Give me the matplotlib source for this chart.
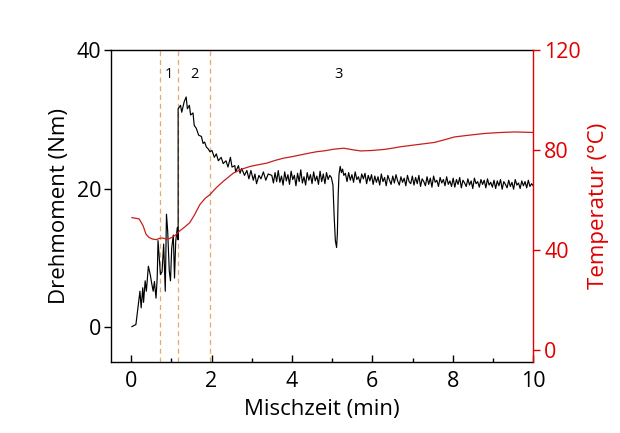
import numpy as np
import matplotlib
matplotlib.use("Agg")
import matplotlib.pyplot as plt

plt.rcParams['font.family'] = ['Open Sans', 'DejaVu Sans']

# ---- torque (Nm) ----
torque_t1 = [0.02,0.12,0.18,0.22,0.25,0.29,0.31,0.35,0.38,0.43,0.48,0.51,0.55,0.58,0.62,0.65,0.67,0.70,
             0.73,0.77,0.81,0.85,0.88,0.91,0.95,0.98,1.01,1.05,1.08,1.11,1.15,1.17,1.17,1.23,1.26,1.32,
             1.37,1.40,1.45,1.48,1.54,1.57,1.62,1.68,1.75,1.79,1.83,1.87,1.92,1.96,2.01,2.07,2.12,2.17,
             2.24,2.29,2.36,2.41,2.47,2.51,2.58,2.60,2.67,2.71,2.75,2.82,2.88,2.93,2.98,3.04,3.08,3.12,
             3.18,3.23,3.29,3.35,3.41,3.50]
torque_v1 = [0.1,0.4,3.3,5.2,2.8,5.7,3.6,6.7,5.2,8.8,7.5,6.4,5.2,6.6,4.2,7.2,12.5,10.1,
             7.6,8.0,12.0,5.2,16.3,13.9,8.1,6.7,11.4,13.3,7.1,12.4,14.4,12.6,31.5,32.0,31.0,32.5,
             33.2,31.5,32.0,30.6,30.9,29.1,28.7,27.7,27.5,26.5,26.7,26.0,25.7,25.3,25.5,24.5,25.0,24.0,
             24.5,23.6,24.0,23.1,24.5,23.1,23.3,22.4,23.3,22.2,22.9,21.9,22.6,21.4,22.6,21.2,22.1,20.7,
             21.9,21.4,22.4,21.2,22.1,21.9]
torque_v2 = [20.8,22.3,21.0,22.6,20.9,21.8,20.5,22.4,21.1,22.0,
             20.6,22.5,21.3,21.9,20.4,22.2,21.0,22.7,20.8,21.7,
             20.5,22.3,21.2,22.0,20.7,22.4,21.1,21.8,20.6,22.5,
             21.0,22.1,20.7,22.3,21.3,21.9,21.6]
torque_t3 = [5.02,5.05,5.08,5.11,5.13,5.15,5.17,5.20,5.23,5.26,5.29,5.33]
torque_v3 = [20.5,16.0,12.5,11.5,13.5,19.0,22.0,23.2,22.3,22.8,21.9,22.2]
torque_v4 = [21.0,22.3,21.2,22.0,20.9,22.4,21.3,21.7,20.8,22.1,21.4,22.2,20.7,21.9,21.1,
             22.0,20.6,21.8,20.9,21.7,20.5,22.1,21.0,21.6,20.4,21.9,21.2,20.6,21.8,20.8,22.0,21.1,20.5,21.7,20.9,21.5,20.4,21.9,21.0,20.7,
             21.8,20.5,21.6,20.7,21.9,20.3,21.4,21.0,20.4,21.7,20.6,21.5,20.2,21.8,20.9,21.2,20.3,21.6,20.8,21.3,20.4,21.7,20.6,21.1,20.3,
             21.5,20.2,21.3,20.6,21.6,20.1,21.2,20.8,20.3,21.4,20.5,21.1,20.0,21.5,20.7,21.0,20.2,21.3,20.6,21.2,20.1,21.4,20.5,20.9,20.2,
             21.2,20.0,21.1,20.4,21.3,19.9,21.0,20.6,20.1,21.2,20.3,20.9,19.9,21.3,20.5,20.8,20.0,21.1,20.4,21.0,20.1,21.2,20.3,20.7,20.4]

# ---- temperature (°C) ----
temp_t = [0.02,0.20,0.30,0.37,0.45,0.54,0.63,0.72,0.80,0.87,0.95,1.03,1.12,1.21,1.33,1.46,1.58,1.71,1.84,1.96,
          2.12,2.29,2.42,2.54,2.75,2.96,3.17,3.37,3.58,3.79,4.0,4.21,4.42,4.62,4.83,5.04,5.29,5.5,5.71,6.0,
          6.29,6.5,6.71,7.1,7.54,7.8,8.04,8.4,8.79,9.2,9.54,10.0]
temp_v = [52.8,52.3,49.5,46.2,44.8,44.2,44.0,44.6,44.6,44.2,44.4,45.0,46.0,47.5,49.0,50.8,54.0,58.0,60.5,62.0,
          64.8,67.3,69.0,70.6,72.2,73.3,74.0,74.6,75.7,76.6,77.2,77.9,78.6,79.2,79.6,80.2,80.6,80.0,79.5,79.7,
          80.1,80.6,81.2,82.0,82.9,84.0,85.1,85.8,86.5,86.9,87.1,86.9]

phase_lines = [0.72, 1.17, 1.97]
phase_labels = ["1", "2", "3"]
phase_label_x = [0.93, 1.58, 5.16]

torque_t = (list(torque_t1) + list(np.linspace(3.54, 4.98, len(torque_v2))) + torque_t3
            + list(np.linspace(5.37, 10.0, len(torque_v4))))
torque_v = torque_v1 + torque_v2 + torque_v3 + torque_v4

fig = plt.figure(figsize=(6.2, 4.33), dpi=100)
ax = fig.add_axes([0.179, 0.164, 0.681, 0.721])
ax2 = ax.twinx()

red_axis = '#e00000'
ax.plot(torque_t, torque_v, color='black', lw=0.85, zorder=3)
ax2.plot(temp_t, temp_v, color='#c81e1e', lw=0.9)

for x in phase_lines:
    ax.axvline(x, color='#e6aa6a', lw=0.9, ls=(0, (4, 3)), zorder=1)
for lx, lab in zip(phase_label_x, phase_labels):
    ax.text(lx, 36.5, lab, ha='center', va='center', fontsize=10.5, color='black')

ax.set_xlim(-0.5, 10.0)
ax.set_ylim(-5, 40)
ax2.set_ylim(-5, 120)

ax.set_xticks([0, 2, 4, 6, 8, 10])
ax.set_xticks([1, 3, 5, 7, 9], minor=True)
ax.set_yticks([0, 20, 40])
ax2.set_yticks([0, 40, 80, 120])

fs_tick = 15.5
fs_lab = 16
ax.tick_params(axis='x', direction='in', length=5, width=1, labelsize=fs_tick, pad=6.5)
ax.tick_params(axis='x', which='minor', direction='in', length=3, width=1)
ax.tick_params(axis='y', direction='out', length=5, width=1, labelsize=fs_tick, pad=2)
ax2.tick_params(axis='y', direction='out', length=5, width=1, labelsize=fs_tick,
                colors=red_axis, pad=3)

ax.set_xlabel('Mischzeit (min)', fontsize=fs_lab, labelpad=5)
ax.set_ylabel('Drehmoment (Nm)', fontsize=fs_lab, labelpad=5)
ax2.set_ylabel('Temperatur (°C)', fontsize=fs_lab, color=red_axis, labelpad=5)

ax2.spines['right'].set_color(red_axis)
ax.spines['right'].set_visible(False)
for s in ['left', 'bottom', 'top']:
    ax.spines[s].set_linewidth(1)
    ax2.spines[s].set_visible(False)
ax2.spines['right'].set_linewidth(1)

fig.savefig('out.png', dpi=100)
